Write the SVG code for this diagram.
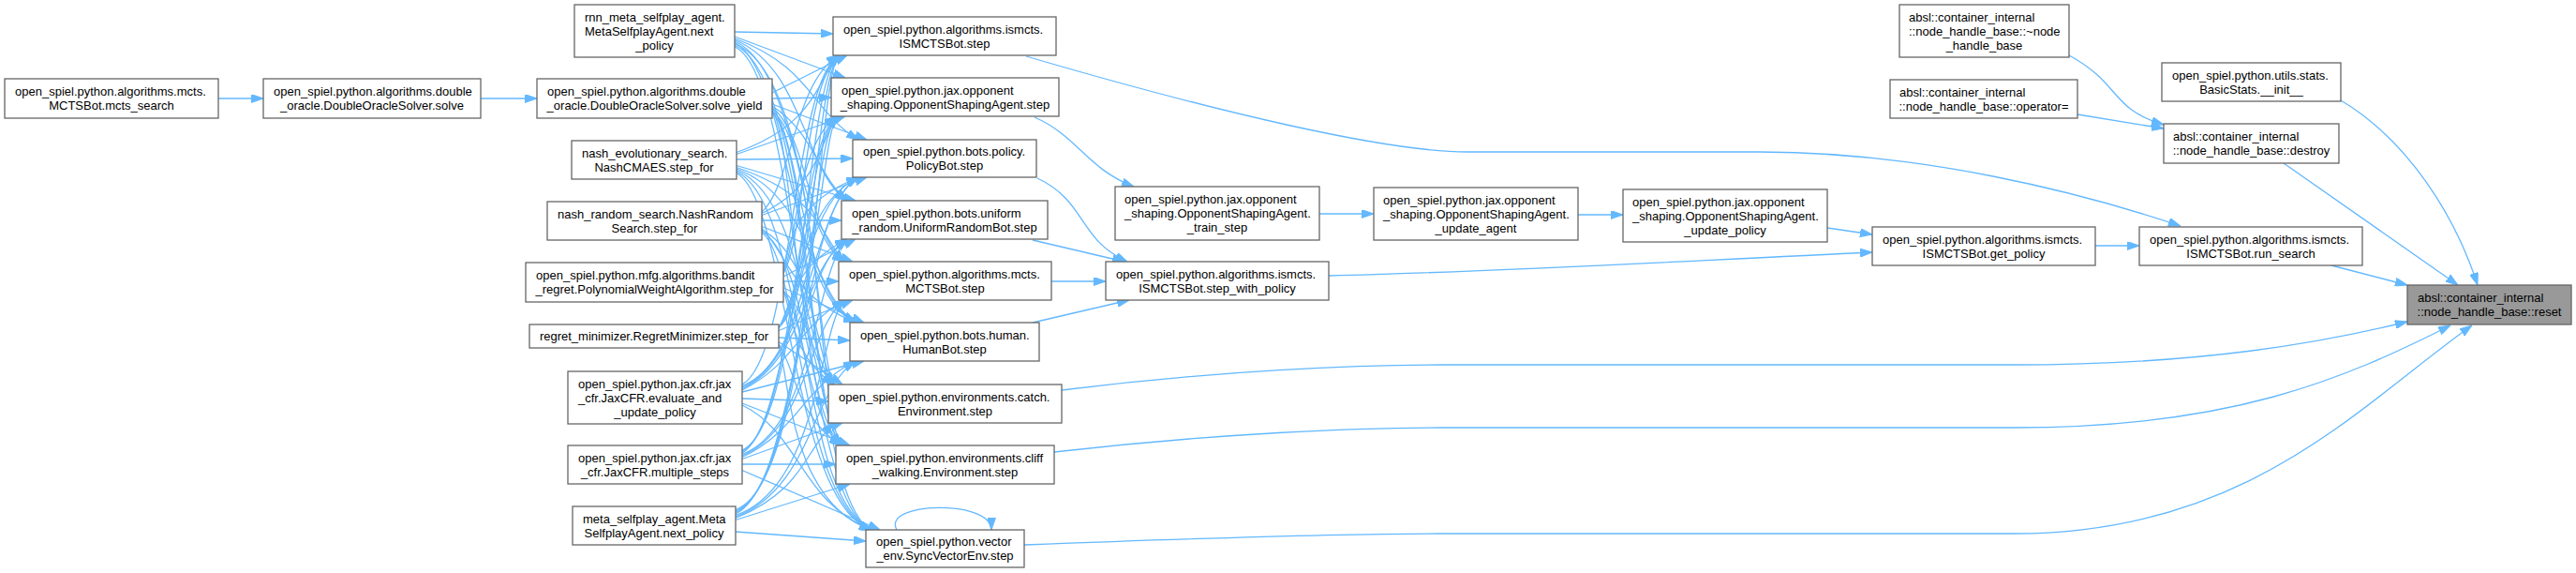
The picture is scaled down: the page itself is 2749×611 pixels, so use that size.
<svg xmlns="http://www.w3.org/2000/svg" width="2749" height="611" viewBox="0 0 2749 611">
<defs>
<style>
.n rect{fill:#ffffff;stroke:#666666;stroke-width:1.3}
.n.hl rect{fill:#999999}
text{font-family:"Liberation Sans",Arial,Helvetica,sans-serif;font-size:13px;fill:#000000}
.m{text-anchor:middle}
.e path{fill:none;stroke:#63b8ff;stroke-width:1.3;marker-end:url(#ah)}
</style>
<marker id="ah" viewBox="0 0 13 9" refX="13" refY="4.5" markerWidth="13" markerHeight="9" markerUnits="userSpaceOnUse" orient="auto"><path d="M0,0 L13,4.5 L0,9 z" fill="#63b8ff" stroke="#63b8ff" stroke-width="1"/></marker>
</defs>
<rect x="0" y="0" width="2749" height="611" fill="#ffffff"/>
<g id="edges" class="e">
<path d="M233,105 L281,105"/>
<path d="M513,105 L573,105"/>
<path d="M784,34 L889,36"/>
<path d="M824,105 L887,104"/>
<path d="M786,170 L910,169"/>
<path d="M813,235 L898,235"/>
<path d="M836,300 L895,300"/>
<path d="M831,360 L907,363"/>
<path d="M792,425 L884,428"/>
<path d="M792,495 L892,495"/>
<path d="M785,567 L924,577"/>
<path d="M784,39 L902,83"/>
<path d="M824,111 L925,149"/>
<path d="M786,176.5 L913,214"/>
<path d="M813,241.5 L910,279"/>
<path d="M836,307 L922,344"/>
<path d="M831,364.5 L899,410"/>
<path d="M792,430 L907,475"/>
<path d="M792,501.5 L939,565"/>
<path d="M824,99 L904,59"/>
<path d="M786,164.5 L902,124"/>
<path d="M813,229.5 L925,189"/>
<path d="M836,295 L913,255"/>
<path d="M831,352.5 L910,320"/>
<path d="M792,418 L922,385"/>
<path d="M792,489.5 L899,451"/>
<path d="M785,554.5 L907,516"/>
<path d="M784,41 C866,71 866,119 916,149"/>
<path d="M784,42.5 C858,72.5 858,184 904,214"/>
<path d="M784,44 C850,74 850,249 901,279"/>
<path d="M784,45.5 C842,75.5 842,314 913,344"/>
<path d="M784,47 C870,77 870,380 890,410"/>
<path d="M784,48.5 C862,78.5 862,445 898,475"/>
<path d="M784,50 C854,80 854,535 930,565"/>
<path d="M824,113 C870,143 870,184 904,214"/>
<path d="M824,114.5 C862,144.5 862,249 901,279"/>
<path d="M824,116 C854,146 854,314 913,344"/>
<path d="M824,117.5 C846,147.5 846,380 890,410"/>
<path d="M824,119 C874,149 874,445 898,475"/>
<path d="M824,120.5 C866,150.5 866,535 930,565"/>
<path d="M786,178.5 C874,208.5 874,249 901,279"/>
<path d="M786,180 C866,210 866,314 913,344"/>
<path d="M786,181.5 C858,211.5 858,380 890,410"/>
<path d="M786,183 C850,213 850,445 898,475"/>
<path d="M786,184.5 C842,214.5 842,535 930,565"/>
<path d="M813,243.5 C842,273.5 842,314 913,344"/>
<path d="M813,245 C870,275 870,380 890,410"/>
<path d="M813,246.5 C862,276.5 862,445 898,475"/>
<path d="M813,248 C854,278 854,535 930,565"/>
<path d="M836,309 C846,339 846,380 890,410"/>
<path d="M836,310.5 C874,340.5 874,445 898,475"/>
<path d="M836,312 C866,342 866,535 930,565"/>
<path d="M831,366.5 C850,396.5 850,445 898,475"/>
<path d="M831,368 C842,398 842,535 930,565"/>
<path d="M792,432 C854,462 854,535 930,565"/>
<path d="M786,162.5 C870,132.5 870,89 895,59"/>
<path d="M813,226 C846,196 846,89 895,59"/>
<path d="M813,227.5 C874,197.5 874,154 893,124"/>
<path d="M836,290 C858,260 858,89 895,59"/>
<path d="M836,291.5 C850,261.5 850,154 893,124"/>
<path d="M836,293 C842,263 842,219 916,189"/>
<path d="M831,349 C870,319 870,89 895,59"/>
<path d="M831,349 C862,319 862,154 893,124"/>
<path d="M831,349 C854,319 854,219 916,189"/>
<path d="M831,350.5 C846,320.5 846,285 904,255"/>
<path d="M792,410 C846,380 846,89 895,59"/>
<path d="M792,411.5 C874,381.5 874,154 893,124"/>
<path d="M792,413 C866,383 866,219 916,189"/>
<path d="M792,414.5 C858,384.5 858,285 904,255"/>
<path d="M792,416 C850,386 850,350 901,320"/>
<path d="M792,480 C858,450 858,89 895,59"/>
<path d="M792,481.5 C850,451.5 850,154 893,124"/>
<path d="M792,483 C842,453 842,219 916,189"/>
<path d="M792,484.5 C870,454.5 870,285 904,255"/>
<path d="M792,486 C862,456 862,350 901,320"/>
<path d="M792,487.5 C854,457.5 854,415 913,385"/>
<path d="M785,543.5 C870,513.5 870,89 895,59"/>
<path d="M785,545 C862,515 862,154 893,124"/>
<path d="M785,546.5 C854,516.5 854,219 916,189"/>
<path d="M785,548 C846,518 846,285 904,255"/>
<path d="M785,549.5 C874,519.5 874,350 901,320"/>
<path d="M785,551 C866,521 866,415 913,385"/>
<path d="M785,552.5 C858,522.5 858,481 890,451"/>
<path d="M957,565 C940,535 1058,532 1058,565"/>
<path d="M1104,125 C1150,145 1160,180 1210,199"/>
<path d="M1107,190 C1160,215 1150,255 1203,279"/>
<path d="M1102,256 L1200,279"/>
<path d="M1122,300 L1180,300"/>
<path d="M1102,344 L1205,320"/>
<path d="M1408,228 L1466,228"/>
<path d="M1684,229 L1732,229"/>
<path d="M1950,243 L1998,250"/>
<path d="M1418,294 C1600,290 1800,278 1998,269"/>
<path d="M2236,262 L2283,262"/>
<path d="M1095,60 C1300,120 1480,162 1566,162 L1878,162 C2050,162 2220,205 2327,241"/>
<path d="M2488,283 L2569,304"/>
<path d="M2437,174 L2623,304"/>
<path d="M2498,107 C2570,150 2620,230 2644,304"/>
<path d="M2208,59 C2265,90 2250,115 2309,133"/>
<path d="M2217,122 L2309,137"/>
<path d="M1133,416 C1300,395 1450,389 1539,389 L2150,389 C2350,389 2480,365 2569,343"/>
<path d="M1125,482 C1300,462 1450,456 1539,456 L2150,456 C2380,456 2500,405 2615,347"/>
<path d="M1093,581 C1300,573 1450,569 1539,569 L2150,569 C2400,569 2520,430 2638,347"/>
</g>
<g id="n_mcts_search" class="n"><rect x="5" y="84" width="228" height="42"/><text x="16" y="102">open_spiel.python.algorithms.mcts.</text><text class="m" x="119" y="117">MCTSBot.mcts_search</text></g>
<g id="n_solve" class="n"><rect x="281" y="84" width="232" height="42"/><text x="292" y="102">open_spiel.python.algorithms.double</text><text class="m" x="397" y="117">_oracle.DoubleOracleSolver.solve</text></g>
<g id="n_rnn_next_policy" class="n"><rect x="613" y="5" width="171" height="56"/><text x="624" y="22.5">rnn_meta_selfplay_agent.</text><text x="624" y="37.5">MetaSelfplayAgent.next</text><text class="m" x="698.5" y="52.5">_policy</text></g>
<g id="n_solve_yield" class="n"><rect x="573" y="84" width="251" height="42"/><text x="584" y="102">open_spiel.python.algorithms.double</text><text class="m" x="698.5" y="117">_oracle.DoubleOracleSolver.solve_yield</text></g>
<g id="n_nashcmaes" class="n"><rect x="610" y="150" width="176" height="41"/><text x="621" y="167.5">nash_evolutionary_search.</text><text class="m" x="698" y="182.5">NashCMAES.step_for</text></g>
<g id="n_nashrandom" class="n"><rect x="584" y="215" width="229" height="41"/><text x="595" y="232.5">nash_random_search.NashRandom</text><text class="m" x="698.5" y="247.5">Search.step_for</text></g>
<g id="n_polyweight" class="n"><rect x="561" y="280" width="275" height="42"/><text x="572" y="298">open_spiel.python.mfg.algorithms.bandit</text><text class="m" x="698.5" y="313">_regret.PolynomialWeightAlgorithm.step_for</text></g>
<g id="n_regretmin" class="n"><rect x="565" y="346" width="266" height="25"/><text class="m" x="698" y="363">regret_minimizer.RegretMinimizer.step_for</text></g>
<g id="n_evaluate" class="n"><rect x="606" y="396" width="186" height="56"/><text x="617" y="413.5">open_spiel.python.jax.cfr.jax</text><text x="617" y="428.5">_cfr.JaxCFR.evaluate_and</text><text class="m" x="699" y="443.5">_update_policy</text></g>
<g id="n_multiple" class="n"><rect x="606" y="475" width="186" height="41"/><text x="617" y="492.5">open_spiel.python.jax.cfr.jax</text><text class="m" x="699" y="507.5">_cfr.JaxCFR.multiple_steps</text></g>
<g id="n_meta_next_policy" class="n"><rect x="611" y="540" width="174" height="41"/><text x="622" y="557.5">meta_selfplay_agent.Meta</text><text class="m" x="698" y="572.5">SelfplayAgent.next_policy</text></g>
<g id="n_ismcts_step" class="n"><rect x="889" y="18" width="238" height="41"/><text x="900" y="35.5">open_spiel.python.algorithms.ismcts.</text><text class="m" x="1008" y="50.5">ISMCTSBot.step</text></g>
<g id="n_osa_step" class="n"><rect x="887" y="83" width="243" height="41"/><text x="898" y="100.5">open_spiel.python.jax.opponent</text><text class="m" x="1008.5" y="115.5">_shaping.OpponentShapingAgent.step</text></g>
<g id="n_policybot" class="n"><rect x="910" y="149" width="196" height="40"/><text x="921" y="166">open_spiel.python.bots.policy.</text><text class="m" x="1008" y="181">PolicyBot.step</text></g>
<g id="n_uniform" class="n"><rect x="898" y="214" width="220" height="41"/><text x="909" y="231.5">open_spiel.python.bots.uniform</text><text class="m" x="1008" y="246.5">_random.UniformRandomBot.step</text></g>
<g id="n_mcts_step" class="n"><rect x="895" y="279" width="227" height="41"/><text x="906" y="296.5">open_spiel.python.algorithms.mcts.</text><text class="m" x="1008.5" y="311.5">MCTSBot.step</text></g>
<g id="n_human" class="n"><rect x="907" y="344" width="202" height="41"/><text x="918" y="361.5">open_spiel.python.bots.human.</text><text class="m" x="1008" y="376.5">HumanBot.step</text></g>
<g id="n_catch" class="n"><rect x="884" y="410" width="249" height="41"/><text x="895" y="427.5">open_spiel.python.environments.catch.</text><text class="m" x="1008.5" y="442.5">Environment.step</text></g>
<g id="n_cliff" class="n"><rect x="892" y="475" width="233" height="41"/><text x="903" y="492.5">open_spiel.python.environments.cliff</text><text class="m" x="1008.5" y="507.5">_walking.Environment.step</text></g>
<g id="n_syncvec" class="n"><rect x="924" y="565" width="169" height="40"/><text x="935" y="582">open_spiel.python.vector</text><text class="m" x="1008.5" y="597">_env.SyncVectorEnv.step</text></g>
<g id="n_train_step" class="n"><rect x="1190" y="199" width="218" height="57"/><text x="1200" y="217">open_spiel.python.jax.opponent</text><text x="1200" y="232">_shaping.OpponentShapingAgent.</text><text class="m" x="1299" y="247">_train_step</text></g>
<g id="n_step_with_policy" class="n"><rect x="1180" y="279" width="238" height="41"/><text x="1191" y="296.5">open_spiel.python.algorithms.ismcts.</text><text class="m" x="1299" y="311.5">ISMCTSBot.step_with_policy</text></g>
<g id="n_update_agent" class="n"><rect x="1466" y="200" width="218" height="56"/><text x="1476" y="217.5">open_spiel.python.jax.opponent</text><text x="1476" y="232.5">_shaping.OpponentShapingAgent.</text><text class="m" x="1575" y="247.5">_update_agent</text></g>
<g id="n_update_policy" class="n"><rect x="1732" y="202" width="218" height="56"/><text x="1742" y="219.5">open_spiel.python.jax.opponent</text><text x="1742" y="234.5">_shaping.OpponentShapingAgent.</text><text class="m" x="1841" y="249.5">_update_policy</text></g>
<g id="n_get_policy" class="n"><rect x="1998" y="242" width="238" height="41"/><text x="2009" y="259.5">open_spiel.python.algorithms.ismcts.</text><text class="m" x="2117" y="274.5">ISMCTSBot.get_policy</text></g>
<g id="n_run_search" class="n"><rect x="2283" y="242" width="238" height="41"/><text x="2294" y="259.5">open_spiel.python.algorithms.ismcts.</text><text class="m" x="2402" y="274.5">ISMCTSBot.run_search</text></g>
<g id="n_dtor" class="n"><rect x="2027" y="5" width="181" height="56"/><text x="2037" y="22.5">absl::container_internal</text><text x="2037" y="37.5">::node_handle_base::~node</text><text class="m" x="2117.5" y="52.5">_handle_base</text></g>
<g id="n_operator_assign" class="n"><rect x="2017" y="85" width="200" height="41"/><text x="2027" y="102.5">absl::container_internal</text><text class="m" x="2117" y="117.5">::node_handle_base::operator=</text></g>
<g id="n_basicstats" class="n"><rect x="2307" y="67" width="191" height="41"/><text x="2318" y="84.5">open_spiel.python.utils.stats.</text><text class="m" x="2402.5" y="99.5">BasicStats.__init__</text></g>
<g id="n_destroy" class="n"><rect x="2309" y="132" width="187" height="42"/><text x="2319" y="150">absl::container_internal</text><text class="m" x="2402.5" y="165">::node_handle_base::destroy</text></g>
<g id="n_reset" class="n hl"><rect x="2569" y="304" width="175" height="42"/><text x="2580" y="322">absl::container_internal</text><text class="m" x="2656.5" y="337">::node_handle_base::reset</text></g>
</svg>
